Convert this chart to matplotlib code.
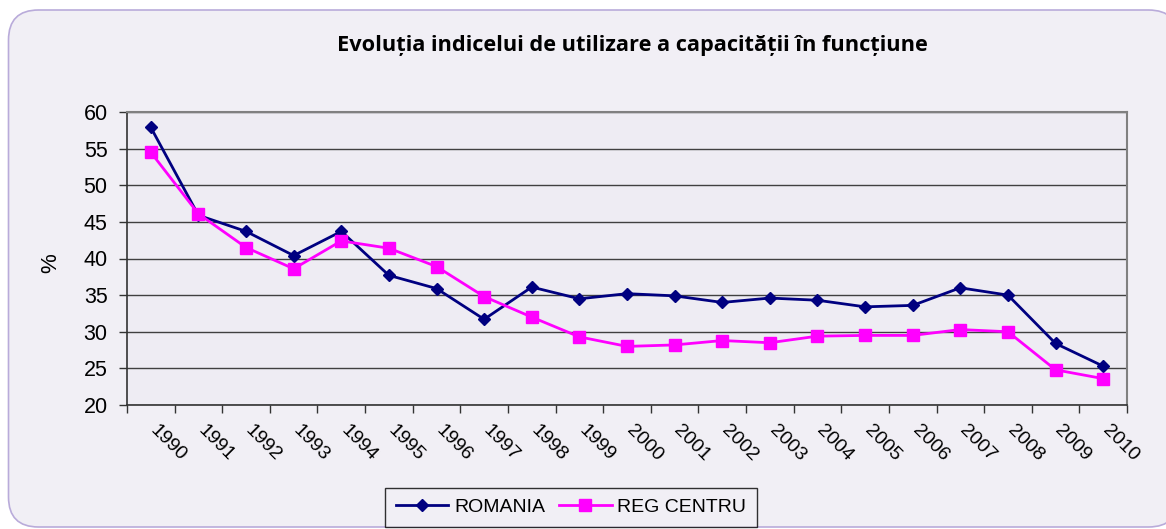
import matplotlib
matplotlib.use("Agg")
import matplotlib.pyplot as plt
import matplotlib.transforms as mtransforms
from matplotlib.patches import FancyBboxPatch
import numpy as np

years = ["1990", "1991", "1992", "1993", "1994", "1995", "1996", "1997", "1998", "1999", "2000",
         "2001", "2002", "2003", "2004", "2005", "2006", "2007", "2008", "2009", "2010"]
romania = [57.9, 45.9, 43.7, 40.4, 43.7, 37.7, 35.9, 31.7, 36.1, 34.5, 35.2,
           34.9, 34.0, 34.6, 34.3, 33.4, 33.6, 36.0, 35.0, 28.4, 25.3]
reg_centru = [54.5, 46.1, 41.5, 38.6, 42.4, 41.4, 38.9, 34.8, 32.0, 29.3, 28.0,
              28.2, 28.8, 28.5, 29.4, 29.5, 29.5, 30.3, 30.0, 24.8, 23.6]
title = "Evoluția indicelui de utilizare a capacității în funcțiune"
ylabel = "%"

W, H = 1166, 529
fig = plt.figure(figsize=(W / 100, H / 100), dpi=100)
fig.patch.set_facecolor("white")

# rounded chart-area border
box = FancyBboxPatch((8.5, 2), 1170, 517, boxstyle="round,pad=0,rounding_size=30",
                     transform=mtransforms.IdentityTransform(),
                     facecolor="#F1EFF5", edgecolor="#B9ABDA", linewidth=1.2, zorder=-10)
fig.patches.append(box)

ax = fig.add_axes([127 / W, 1 - 405 / H, 1000 / W, 293 / H])
ax.set_zorder(1)
ax.set_facecolor("#EEECF3")

x = np.arange(len(years))
ax.plot(x, romania, color="#000080", lw=2.0, marker="D", markersize=6.2,
        markerfacecolor="#000080", markeredgecolor="#000080", label="ROMANIA", zorder=3)
ax.plot(x, reg_centru, color="#FF00FF", lw=2.0, marker="s", markersize=8.5,
        markerfacecolor="#FF00FF", markeredgecolor="#FF00FF", label="REG CENTRU", zorder=3)

ax.set_xlim(-0.5, len(years) - 0.5)
ax.set_ylim(20, 60)
ax.set_yticks(np.arange(20, 61, 5))
ax.yaxis.grid(True, color="#404040", lw=1.0)
ax.set_axisbelow(True)

# x ticks: marks at category boundaries, labels at centers
ax.set_xticks(x)
ax.set_xticks(np.arange(-0.5, len(years), 1.0), minor=True)
ax.tick_params(axis="x", which="major", length=0, pad=16.5)
ax.tick_params(axis="x", which="minor", length=6, width=1, color="#333333", direction="out")
ax.tick_params(axis="y", length=6, width=1, color="#333333", direction="out", pad=8)
ax.set_xticklabels(years, rotation=-45, ha="left", va="center", rotation_mode="anchor",
                   fontsize=14, family="Liberation Sans")
offset = mtransforms.ScaledTranslation(2 / 100, 0, fig.dpi_scale_trans)
for lab in ax.get_xticklabels():
    lab.set_transform(lab.get_transform() + offset)
for lab in ax.get_yticklabels():
    lab.set_fontsize(15.5)
    lab.set_family("Liberation Sans")

for s in ["top", "right"]:
    ax.spines[s].set_color("#808080")
    ax.spines[s].set_linewidth(1.5)
for s in ["left", "bottom"]:
    ax.spines[s].set_color("#333333")
    ax.spines[s].set_linewidth(1.2)

fig.text(632 / W, 1 - 45 / H, title, ha="center", va="center", fontsize=15.7,
         fontweight="bold", family="Open Sans")
fig.text(51 / W, 1 - 263 / H, ylabel, ha="center", va="center", rotation=90,
         fontsize=16, family="Liberation Sans")

leg = fig.legend(loc="center", bbox_to_anchor=(571 / W, 1 - 507 / H), ncol=2,
                 prop={"family": "Liberation Sans", "size": 14},
                 handlelength=2.7, handletextpad=0.3, columnspacing=0.72,
                 borderpad=0.55, frameon=True, fancybox=False)
leg.get_frame().set_edgecolor("#000000")
leg.get_frame().set_facecolor("#F1EFF5")
leg.get_frame().set_linewidth(1.0)
for h in leg.legend_handles:
    h.set_markersize(6.2 if h.get_marker() == "D" else 8.5)

fig.savefig("out.png", dpi=100, facecolor=fig.get_facecolor())
